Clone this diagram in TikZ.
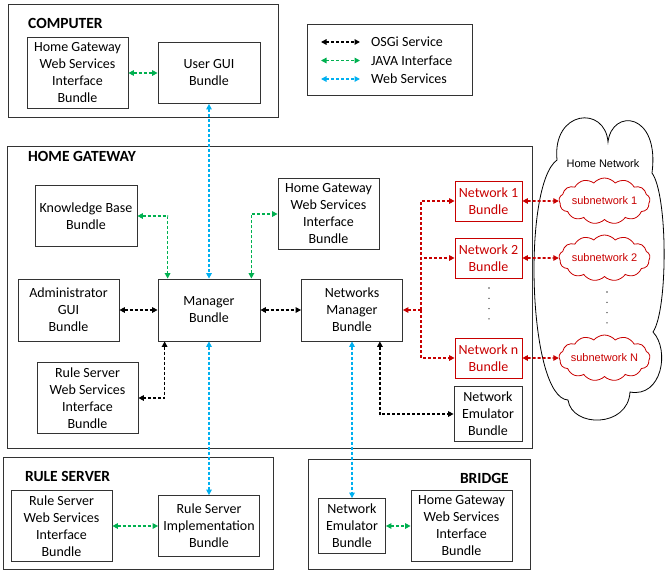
\documentclass[tikz,border=0pt]{standalone}
\usepackage{fontspec}
\setmainfont{Carlito}
\newfontfamily\cloudfont{Liberation Sans}
\usetikzlibrary{arrows.meta,shapes.symbols}
\definecolor{javagreen}{RGB}{0,176,80}
\definecolor{webblue}{RGB}{0,176,240}
\definecolor{netred}{RGB}{200,0,0}
\newcommand\colorOSGi{black}
\newcommand\colorJava{javagreen}
\newcommand\colorWeb{webblue}
\newcommand\colorNet{netred}
\newcommand\colorBox{black!80}
\tikzset{
	bundle/.style={draw=\colorBox, line width=0.8pt, align=center, inner sep=0pt, font=\fontsize{14}{17}\selectfont},
	netbundle/.style={bundle, draw=\colorNet, text=\colorNet},
	hostbox/.style={draw=\colorBox, line width=1pt},
	hosttitle/.style={inner sep=0pt, font=\bfseries\fontsize{15.5}{18}\selectfont},
	legendtext/.style={anchor=west, inner sep=0pt, font=\fontsize{14}{17}\selectfont},
	link/.style={line width=1.7pt, dash pattern=on 3pt off 2pt, >={Triangle[length=5.5pt,width=5.5pt]}},
	subnet/.style={cloud, cloud puffs=13, cloud puff arc=100, cloud ignores aspect, draw=\colorNet, line width=0.8pt, minimum width=91pt, minimum height=46pt, inner sep=0pt},
	subnettext/.style={inner sep=0pt, text=\colorNet, font=\cloudfont\fontsize{11}{13}\selectfont}
}
\begin{document}
\begin{tikzpicture}[x=1pt, y=-1pt]
	\useasboundingbox (0,0) rectangle (665,571);
	
	% computer
	\draw[hostbox] (8,4) rectangle (278,117);
	\node[hosttitle, anchor=west] (computer) at (28,23) {COMPUTER};
	\node[bundle, minimum width=101pt, minimum height=71pt] (chgws) at (77.5,73) {Home Gateway\\Web Services\\Interface\\Bundle};
	\node[bundle, minimum width=102pt, minimum height=61pt] (gui) at (209,73) {User GUI\\Bundle};
	
	% legend
	\draw[hostbox, line width=0.8pt] (307,24) rectangle (472,95);
	\foreach \c/\t [count=\i] in {\colorOSGi/OSGi Service,\colorJava/JAVA Interface,\colorWeb/Web Services}{
		\coordinate (legA\i) at (321,{23.5+\i*18.5});
		\coordinate (legB\i) at (360,{23.5+\i*18.5});
		\draw[link, color=\c, <->] (legA\i) -- (legB\i);
		\node[legendtext] (leg\i) at (371,{23.5+\i*18.5}) {\t};
	}
	
	% home gateway
	\draw[hostbox] (7,146) rectangle (532,448);
	\node[hosttitle, anchor=west] (homegw) at (28,156) {HOME GATEWAY};
	\node[bundle, minimum width=102pt, minimum height=61pt] (kb) at (86,216) {Knowledge Base\\Bundle};
	\node[bundle, minimum width=101pt, minimum height=71pt] (hhgws) at (328.5,214) {Home Gateway\\Web Services\\Interface\\Bundle};
	\node[bundle, minimum width=101pt, minimum height=62pt] (admin) at (68.5,310) {Administrator\\GUI\\Bundle};
	\node[bundle, minimum width=102pt, minimum height=62pt] (manager) at (209,310) {Manager\\Bundle};
	\node[bundle, minimum width=101pt, minimum height=62pt] (netmgr) at (352,310) {Networks\\Manager\\Bundle};
	\node[bundle, minimum width=101pt, minimum height=71pt] (hrsws) at (87.5,398) {Rule Server\\Web Services\\Interface\\Bundle};
	\node[bundle, minimum width=68pt, minimum height=55pt] (hemu) at (488,414) {Network\\Emulator\\Bundle};
	\node[netbundle, minimum width=67pt, minimum height=40pt] (net1) at (488.5,201) {Network 1\\Bundle};
	\node[netbundle, minimum width=67pt, minimum height=40pt] (net2) at (488.5,258) {Network 2\\Bundle};
	\node[netbundle, minimum width=67pt, minimum height=40pt] (netn) at (488.5,358) {Network n\\Bundle};
	\foreach \k in {0,...,3}{
		\fill[black!70] (489,{288+\k*10.3}) circle (0.8pt);
	}
	
	% home network
	\draw[line width=0.8pt] (557,160) .. controls (552,110) and (605,105) .. (608,142)
		.. controls (612,108) and (660,112) .. (652,173)
		.. controls (668,195) and (668,310) .. (653,332)
		.. controls (670,350) and (662,398) .. (630,392)
		.. controls (628,428) and (572,428) .. (568,400)
		.. controls (528,398) and (522,185) .. cycle;
	\node[inner sep=0pt, font=\cloudfont\fontsize{11}{13}\selectfont] (homenettitle) at (603,164) {Home Network};
	\node[subnet] (sub1) at (604.5,201) {};
	\node[subnettext] (sub1text) at (sub1) {subnetwork 1};
	\node[subnet] (sub2) at (604.5,258) {};
	\node[subnettext] (sub2text) at (sub2) {subnetwork 2};
	\node[subnet] (subn) at (604.5,358) {};
	\node[subnettext] (subntext) at (subn) {subnetwork N};
	\foreach \k in {0,...,3}{
		\fill[black!70] (607,{292+\k*10.3}) circle (0.8pt);
	}
	
	% rule server
	\draw[hostbox] (3,457) rectangle (273,569);
	\node[hosttitle, anchor=west] (ruleserver) at (25,476) {RULE SERVER};
	\node[bundle, minimum width=101pt, minimum height=71pt] (srsws) at (61.5,526) {Rule Server\\Web Services\\Interface\\Bundle};
	\node[bundle, minimum width=101pt, minimum height=61pt] (rsimpl) at (209,526) {Rule Server\\Implementation\\Bundle};
	
	% bridge
	\draw[hostbox] (308,459) rectangle (530,569);
	\node[hosttitle, anchor=east] (bridge) at (509,478) {BRIDGE};
	\node[bundle, minimum width=67pt, minimum height=55pt] (bemu) at (352,526) {Network\\Emulator\\Bundle};
	\node[bundle, minimum width=101pt, minimum height=71pt] (bhgws) at (461.5,526) {Home Gateway\\Web Services\\Interface\\Bundle};
	
	% osgi services
	\draw[link, color=\colorOSGi, <->] (admin.east) -- (manager.west);
	\draw[link, color=\colorOSGi, <->] (manager.east) -- (netmgr.west);
	\draw[link, color=\colorOSGi, <->] ([xshift=7pt]manager.south west) |- (hrsws.east);
	\draw[link, color=\colorOSGi, <->] ([xshift=-23pt]netmgr.south east) |- (hemu.west);
	
	% java interfaces
	\draw[link, color=\colorJava, <->] (chgws.east) -- (gui.west);
	\draw[link, color=\colorJava, <->] (kb.east) -| ([xshift=10pt]manager.north west);
	\draw[link, color=\colorJava, <->] ([xshift=-9pt]manager.north east) |- (hhgws.west);
	\draw[link, color=\colorJava, <->] (srsws.east) -- (rsimpl.west);
	\draw[link, color=\colorJava, <->] (bemu.east) -- (bhgws.west);
	
	% web services
	\draw[link, color=\colorWeb, <->] (gui.south) -- (manager.north);
	\draw[link, color=\colorWeb, <->] (manager.south) -- (rsimpl.north);
	\draw[link, color=\colorWeb, <->] (netmgr.south) -- (bemu.north);
	
	% networks
	\coordinate (trunk) at (421,310);
	\draw[link, color=\colorNet, <-] (netmgr.east) -- (trunk);
	\draw[link, color=\colorNet, ->] (trunk) |- (net1.west);
	\draw[link, color=\colorNet, ->] (trunk) |- (net2.west);
	\draw[link, color=\colorNet, ->] (trunk) |- (netn.west);
	\draw[link, color=\colorNet, <->] (net1.east) -- (sub1.west);
	\draw[link, color=\colorNet, <->] (net2.east) -- (sub2.west);
	\draw[link, color=\colorNet, <->] (netn.east) -- (subn.west);
\end{tikzpicture}
\end{document}
